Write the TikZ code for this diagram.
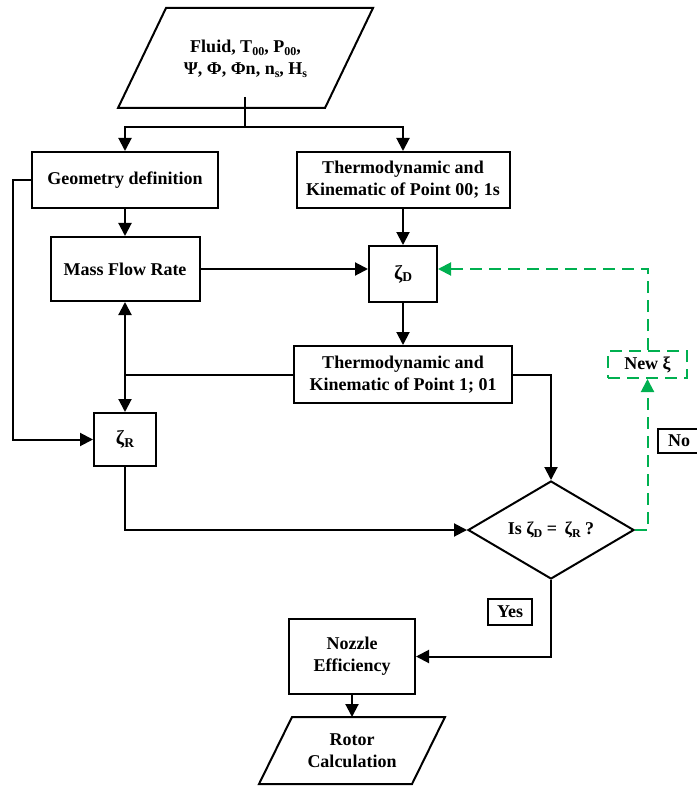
\documentclass[tikz,border=0pt]{standalone}
\usepackage{fontspec}
\setmainfont{Liberation Serif}
\usetikzlibrary{arrows.meta,shapes.geometric}
\definecolor{grn}{RGB}{0,176,80}
\newcommand{\lowsub}[1]{\raisebox{-0.35ex}{\fontsize{12}{12}\selectfont #1}}
\newcommand{\zetasub}[1]{{\fontsize{20}{20}\selectfont ζ}\raisebox{-0.3ex}{\fontsize{13.5}{13.5}\selectfont #1}}
\begin{document}
\begin{tikzpicture}[x=1pt,y=-1pt,
  font=\fontsize{18}{22}\selectfont\bfseries,
  ln/.style={line width=2pt},
  box/.style={draw, line width=2pt, inner sep=0pt, align=center},
  arr/.style={-{Triangle[length=13pt,width=13pt]}, line width=2pt},
  grline/.style={draw=grn, dash pattern=on 12pt off 7pt, line width=2pt},
  grarr/.style={grline, -{Triangle[length=13pt,width=13pt]}, grn}]
\useasboundingbox (0,0) rectangle (696,786);
% input parallelogram
\draw[ln] (118,108) -- (166,8) -- (373,8) -- (325,108) -- cycle;
\node[align=center, inner sep=0pt] (inp) at (245.5,59) {Fluid, T\lowsub{00}, P\lowsub{00},\\ Ψ, Φ, Φn, n\lowsub{s}, H\lowsub{s}};
\coordinate (instub) at (245,97);
\coordinate (split) at (245,127);
% boxes
\node[box, minimum width=186pt, minimum height=56pt] (geo) at (125,180) {Geometry definition};
\node[box, minimum width=213pt, minimum height=56pt] (th0) at (403,180) {Thermodynamic and\\Kinematic of Point 00; 1s};
\node[box, minimum width=149pt, minimum height=64pt] (mfr) at (125,269) {Mass Flow Rate};
\node[box, minimum width=68pt, minimum height=56pt] (zd) at (403,274) {\zetasub{D}};
\node[box, minimum width=218pt, minimum height=57pt] (th1) at (403,374.5) {Thermodynamic and\\Kinematic of Point 1; 01};
\node[box, minimum width=62pt, minimum height=53pt] (zr) at (125,439.5) {\zetasub{R}};
\node[diamond, draw, line width=2pt, inner sep=0pt, aspect=1.7, minimum width=166pt, minimum height=98pt] (dec) at (551,530) {Is ζ\lowsub{D} = \,ζ\lowsub{R} ?};
\node[grline, inner sep=0pt, minimum width=79pt, minimum height=27pt] (nx) at (647.5,364.5) {New ξ};
\node[box, minimum width=42pt, minimum height=24pt] (no) at (679,441) {No};
\node[box, minimum width=44pt, minimum height=26pt] (yes) at (510,612) {Yes};
\node[box, minimum width=126pt, minimum height=75pt] (noz) at (352,656.5) {Nozzle\\Efficiency};
% rotor parallelogram
\draw[ln] (259,784) -- (292,717) -- (445,717) -- (412,784) -- cycle;
\node[align=center, inner sep=0pt] (rot) at (352,751) {Rotor\\Calculation};
\coordinate (rtop) at (352,717);
% connectors
\draw[ln] (instub) -- (split);
\draw[arr] (split) -| (geo.north);
\draw[arr] (split) -| (th0.north);
\draw[arr] (geo.south) -- (mfr.north);
\draw[arr] (th0.south) -- (zd.north);
\draw[arr] (mfr.east) -- (mfr.east -| zd.west);
\draw[arr] (zd.south) -- (th1.north);
\coordinate (j) at (th1.west -| mfr.south);
\draw[ln] (th1.west) -- (j);
\draw[arr] (j) -- (mfr.south);
\draw[arr] (j) -- (zr.north);
\draw[arr] (geo.west) -- ++(-18,0) |- (zr.west);
\draw[arr] (zr.south) |- (dec.west);
\draw[arr] (th1.east) -| (dec.north);
\draw[arr] (dec.south) |- (noz.east);
\draw[arr] (noz.south) -- (rtop);
\draw[grarr] (dec.east) -| (nx.south);
\draw[grarr] (nx.north) |- (zd.east |- mfr.east);
\end{tikzpicture}
\end{document}
